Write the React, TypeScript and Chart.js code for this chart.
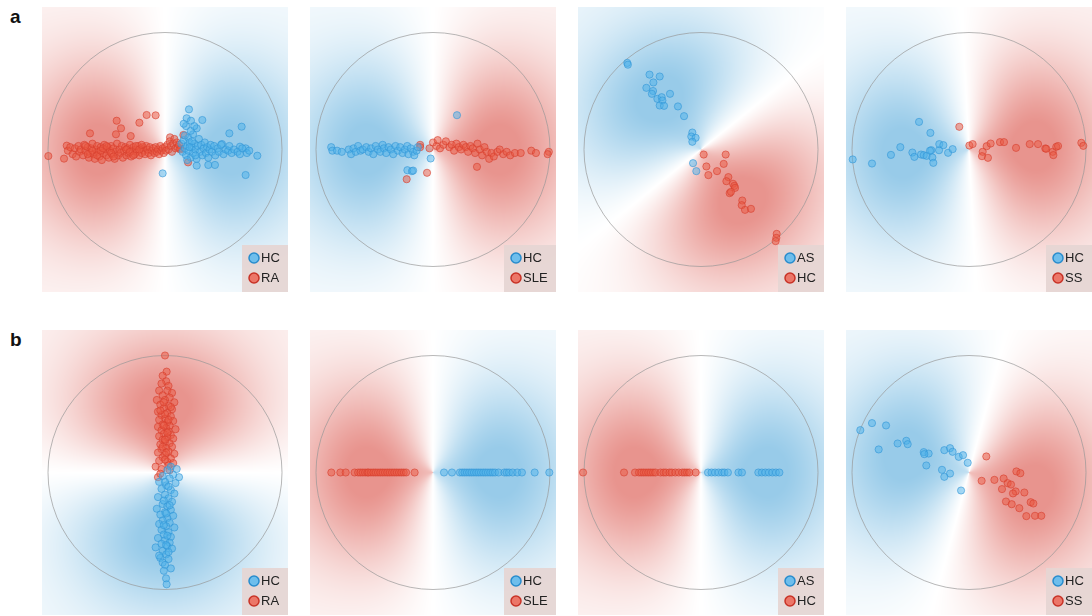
import React, { useEffect, useRef } from "react";
import { Chart, registerables } from "chart.js";
Chart.register(...registerables);

type P = [number, number];

// ---------- data (circle radius = 1, centre = 0,0) ----------
const a1HC: P[] = [
  [0.205,0.343],[0.185,0.267],[0.222,0.246],[0.319,0.252],[0.271,0.181],[0.655,0.195],[0.55,0.138],[0.487,0.047],
  [0.641,0.024],[0.689,0.01],[0.789,-0.053],[0.689,-0.218],[-0.02,-0.204],[0.427,-0.132],[0.37,-0.132],[0.271,-0.138],
  [0.14,0.05],[0.15,-0.02],[0.16,0.08],[0.17,0.01],[0.18,-0.05],[0.19,0.03],[0.2,0.1],[0.2,-0.01],[0.21,0.06],
  [0.22,-0.07],[0.23,0.02],[0.24,0.13],[0.24,-0.03],[0.25,0.05],[0.26,0.0],[0.27,-0.08],[0.28,0.03],[0.29,0.09],
  [0.3,-0.02],[0.31,0.04],[0.32,-0.05],[0.33,0.01],[0.34,0.06],[0.35,-0.03],[0.36,0.02],[0.37,-0.07],[0.38,0.0],
  [0.39,0.04],[0.4,-0.02],[0.42,0.03],[0.43,-0.05],[0.45,0.01],[0.46,-0.02],[0.48,0.04],[0.5,-0.04],[0.52,0.0],
  [0.54,-0.01],[0.55,0.03],[0.57,-0.03],[0.59,0.0],[0.62,-0.02],[0.64,-0.04],[0.66,0.01],[0.7,-0.03],[0.72,-0.01],
  [0.22,0.16],[0.18,0.2],[0.16,0.22],[0.25,0.2],[0.17,0.12],[0.19,-0.09],[0.23,0.07],[0.26,-0.05],[0.21,0.02]
];
const a1RA: P[] = [
  [-0.997,-0.056],[-0.863,-0.078],[-0.84,0.033],[-0.641,0.138],[-0.413,0.246],[-0.376,0.181],[-0.419,0.13],
  [-0.293,0.115],[-0.219,0.229],[-0.157,0.295],[-0.08,0.292],[0.043,0.104],[0.157,0.124],[0.197,-0.11],[0.128,0.01],
  [-0.83,-0.01],[-0.81,0.02],[-0.79,-0.04],[-0.77,0.01],[-0.76,-0.06],[-0.74,0.03],[-0.73,-0.02],[-0.72,0.0],
  [-0.7,-0.05],[-0.69,0.04],[-0.68,-0.01],[-0.66,0.02],[-0.65,-0.07],[-0.64,-0.03],[-0.63,0.01],[-0.62,0.05],
  [-0.61,-0.04],[-0.6,-0.08],[-0.59,0.0],[-0.58,0.03],[-0.57,-0.02],[-0.56,-0.06],[-0.55,0.02],[-0.54,-0.09],
  [-0.53,-0.03],[-0.52,0.04],[-0.51,0.0],[-0.5,-0.05],[-0.49,0.02],[-0.48,-0.07],[-0.47,-0.01],[-0.46,0.03],
  [-0.45,-0.04],[-0.44,0.01],[-0.43,-0.08],[-0.42,-0.02],[-0.41,0.05],[-0.4,-0.05],[-0.39,0.0],[-0.38,-0.03],
  [-0.37,0.03],[-0.36,-0.07],[-0.35,-0.01],[-0.34,0.02],[-0.33,-0.05],[-0.32,0.01],[-0.31,-0.03],[-0.3,0.04],
  [-0.29,-0.06],[-0.28,-0.01],[-0.27,0.02],[-0.26,-0.04],[-0.25,0.0],[-0.24,-0.02],[-0.23,0.03],[-0.22,-0.05],
  [-0.21,0.01],[-0.2,-0.03],[-0.19,0.02],[-0.18,-0.01],[-0.17,-0.04],[-0.16,0.03],[-0.15,0.0],[-0.14,-0.03],
  [-0.13,0.02],[-0.12,-0.05],[-0.11,-0.01],[-0.1,0.01],[-0.09,-0.03],[-0.08,0.02],[-0.07,-0.02],[-0.06,0.0],
  [-0.05,-0.04],[-0.04,0.03],[-0.03,-0.01],[-0.02,0.01],[-0.01,-0.03],[0.0,0.02],[0.01,-0.01],[0.02,0.04],
  [0.03,0.0],[0.04,0.07],[0.05,0.03],[0.06,-0.02],[0.07,0.05],[0.08,0.09],[0.09,0.01],[0.1,0.06],[0.11,0.02],
  [0.12,0.04],[0.13,0.0],[-0.68,0.03],[-0.66,-0.04],[-0.62,-0.01],[-0.58,-0.05],[-0.55,-0.01],[-0.53,0.01],
  [-0.5,0.03],[-0.46,-0.03],[-0.44,-0.06],[-0.33,0.0],[-0.3,-0.02],[-0.27,-0.05],[-0.25,0.03],[-0.22,0.0],[-0.2,0.04]
];
const a2HC: P[] = [
  [-0.87,0.02],[-0.86,-0.01],[-0.82,-0.01],[-0.78,-0.02],[-0.72,0.0],[-0.7,-0.04],[-0.68,0.01],[-0.66,-0.02],
  [-0.64,0.03],[-0.62,-0.01],[-0.6,0.0],[-0.57,0.02],[-0.55,-0.02],[-0.53,0.01],[-0.51,-0.04],[-0.49,0.03],
  [-0.47,0.0],[-0.45,-0.02],[-0.43,0.04],[-0.42,0.01],[-0.4,-0.03],[-0.38,0.02],[-0.36,0.0],[-0.34,-0.04],
  [-0.32,0.03],[-0.3,-0.01],[-0.28,0.02],[-0.26,-0.03],[-0.24,0.0],[-0.22,0.03],[-0.21,-0.04],[-0.19,0.01],
  [-0.17,-0.02],[-0.16,-0.05],[-0.14,-0.01],[-0.13,0.02],[0.205,0.293],[-0.02,-0.077],[-0.219,-0.177],
  [-0.18,-0.185],[-0.17,-0.18]
];
const a2SLE: P[] = [
  [-0.11,0.04],[-0.11,0.02],[-0.03,0.01],[0.0,0.06],[0.03,0.03],[0.04,0.08],[0.06,0.01],[0.09,0.04],[0.11,0.07],
  [0.14,0.02],[0.16,0.04],[0.18,-0.01],[0.2,0.05],[0.22,0.02],[0.24,0.0],[0.26,0.04],[0.28,0.02],[0.3,-0.02],
  [0.32,0.03],[0.34,0.01],[0.36,-0.03],[0.38,0.05],[0.4,0.0],[0.42,-0.05],[0.44,0.02],[0.46,-0.02],[0.48,-0.08],
  [0.5,-0.03],[0.52,-0.06],[0.55,-0.02],[0.57,0.0],[0.6,-0.04],[0.63,-0.02],[0.66,-0.05],[0.7,-0.03],[0.75,-0.03],
  [0.84,-0.01],[0.88,-0.03],[0.99,-0.02],[0.98,-0.04],[-0.225,-0.254],[-0.051,-0.199],[0.376,-0.148]
];
const a3AS: P[] = [
  [-0.63,0.74],[-0.625,0.725],[-0.44,0.64],[-0.353,0.624],[-0.407,0.573],[-0.467,0.527],[-0.41,0.5],[-0.42,0.476],
  [-0.373,0.433],[-0.336,0.447],[-0.33,0.419],[-0.265,0.476],[-0.353,0.376],[-0.316,0.373],[-0.197,0.368],
  [-0.145,0.285],[-0.074,0.145],[-0.083,0.111],[-0.046,0.1],[-0.074,0.066],[-0.068,-0.117],[-0.04,-0.185]
];
const a3HC: P[] = [
  [0.023,-0.043],[0.211,-0.043],[0.046,-0.145],[0.194,-0.123],[0.063,-0.219],[0.137,-0.185],[0.234,-0.236],
  [0.217,-0.271],[0.274,-0.293],[0.285,-0.311],[0.291,-0.328],[0.245,-0.373],[0.256,-0.362],[0.353,-0.436],
  [0.348,-0.476],[0.376,-0.516],[0.427,-0.507],[0.647,-0.721],[0.644,-0.755],[0.638,-0.783]
];
const a4HC: P[] = [
  [-0.994,-0.085],[-0.829,-0.12],[-0.667,-0.046],[-0.587,0.02],[-0.484,-0.026],[-0.467,-0.063],[-0.41,-0.043],
  [-0.387,-0.048],[-0.362,-0.054],[-0.322,-0.006],[-0.333,-0.01],[-0.313,-0.068],[-0.305,-0.114],[-0.256,-0.006],
  [-0.254,0.046],[-0.219,0.037],[-0.179,-0.028],[-0.14,0.003],[-0.427,0.236],[-0.33,0.142]
];
const a4SS: P[] = [
  [-0.083,0.194],[0.003,0.034],[0.031,0.046],[0.151,0.028],[0.185,0.051],[0.117,-0.02],[0.111,-0.057],
  [0.162,-0.071],[0.265,0.063],[0.299,0.063],[0.402,0.014],[0.519,0.046],[0.59,0.046],[0.652,0.009],[0.66,0.006],
  [0.715,-0.02],[0.721,-0.048],[0.746,0.023],[0.761,0.03],[0.96,0.057],[0.977,0.031]
];
const b1HC: P[] = [
  [0.05,0.05],[0.1,0.03],[0.12,-0.04],[0.02,0.02],[0.07,-0.02],[-0.02,-0.03],[0.04,-0.05],[-0.05,-0.08],[0.09,-0.09],
  [0.01,-0.11],[-0.03,-0.14],[0.05,-0.15],[0.08,-0.18],[0.0,-0.19],[-0.06,-0.21],[0.03,-0.22],[0.06,-0.25],
  [-0.02,-0.27],[0.02,-0.29],[-0.07,-0.31],[0.05,-0.32],[0.0,-0.34],[-0.04,-0.36],[0.07,-0.37],[0.02,-0.39],
  [-0.02,-0.41],[0.04,-0.43],[-0.05,-0.44],[0.01,-0.46],[0.08,-0.47],[-0.03,-0.49],[0.03,-0.51],[-0.01,-0.53],
  [0.05,-0.55],[-0.06,-0.56],[0.0,-0.58],[0.04,-0.6],[-0.03,-0.61],[0.02,-0.63],[-0.08,-0.64],[0.06,-0.65],
  [-0.02,-0.67],[0.01,-0.7],[-0.04,-0.73],[0.03,-0.74],[-0.02,-0.77],[0.0,-0.79],[-0.01,-0.84],[0.05,-0.82],
  [0.009,-0.905],[0.014,-0.956],[0.0,-0.08],[0.03,-0.12],[-0.01,-0.24],[0.04,-0.28],[0.01,-0.35],[-0.01,-0.45],
  [0.02,-0.54],[0.01,-0.62],[0.03,-0.68],[-0.05,-0.71]
];
const b1RA: P[] = [
  [0.0,1.0],[0.014,0.862],[-0.02,0.827],[0.01,0.78],[-0.03,0.76],[0.03,0.74],[-0.05,0.7],[0.02,0.7],[0.06,0.68],
  [-0.02,0.66],[0.04,0.64],[-0.07,0.62],[0.0,0.62],[0.08,0.6],[-0.04,0.58],[0.03,0.57],[-0.01,0.55],[0.06,0.54],
  [-0.06,0.52],[0.02,0.51],[-0.03,0.49],[0.05,0.48],[0.0,0.46],[-0.05,0.45],[0.07,0.44],[0.02,0.43],[-0.02,0.41],
  [0.04,0.4],[-0.06,0.39],[0.01,0.38],[0.09,0.37],[-0.03,0.36],[0.03,0.35],[-0.01,0.33],[0.05,0.32],[-0.05,0.31],
  [0.02,0.3],[0.07,0.29],[-0.02,0.28],[0.0,0.26],[0.04,0.25],[-0.04,0.24],[0.06,0.22],[0.01,0.21],[-0.03,0.2],
  [0.03,0.18],[-0.06,0.17],[0.08,0.16],[0.0,0.15],[-0.02,0.13],[0.05,0.12],[-0.05,0.1],[0.02,0.09],[0.07,0.08],
  [-0.08,0.05],[-0.03,0.03],[0.04,0.02],[-0.06,-0.04],[-0.04,-0.01],[0.0,0.5],[0.03,0.45],[-0.01,0.4],[0.02,0.34],
  [0.0,0.28],[-0.02,0.22],[0.01,0.17],[0.0,0.11],[0.03,0.06],[-0.01,0.6],[0.05,0.56],[-0.04,0.53]
];
// panels b2 and b3 lie on the horizontal axis (y = 0)
const b2HCx: number[] = [0.094,0.162,0.23,0.25,0.27,0.29,0.31,0.33,0.35,0.37,0.39,0.41,0.43,0.45,0.47,0.49,0.51,0.53,0.56,0.61,0.63,0.65,0.68,0.72,0.76,0.869,0.994];
const b2SLEx: number[] = [-0.869,-0.792,-0.746,-0.67,-0.64,-0.62,-0.6,-0.58,-0.56,-0.55,-0.53,-0.51,-0.49,-0.47,-0.45,-0.43,-0.41,-0.39,-0.37,-0.35,-0.33,-0.31,-0.29,-0.27,-0.25,-0.23,-0.157];
const b3ASx: number[] = [0.06,0.09,0.12,0.15,0.18,0.2,0.23,0.32,0.35,0.49,0.52,0.55,0.58,0.61,0.64,0.67];
const b3HCx: number[] = [-1.008,-0.658,-0.564,-0.53,-0.51,-0.49,-0.47,-0.45,-0.43,-0.41,-0.39,-0.345,-0.32,-0.3,-0.27,-0.25,-0.22,-0.19,-0.16,-0.14,-0.12,-0.1,-0.046];
const b4HC: P[] = [
  [-0.929,0.362],[-0.829,0.422],[-0.709,0.402],[-0.772,0.197],[-0.61,0.248],[-0.536,0.271],[-0.524,0.242],
  [-0.387,0.174],[-0.345,0.162],[-0.382,0.157],[-0.211,0.191],[-0.162,0.208],[-0.14,0.177],[-0.088,0.134],
  [-0.051,0.148],[-0.011,0.083],[-0.365,0.06],[-0.231,0.023],[-0.162,-0.009],[-0.211,-0.037],[-0.068,-0.154]
];
const b4SS: P[] = [
  [0.148,0.137],[0.108,-0.071],[0.217,-0.063],[0.296,-0.051],[0.33,-0.091],[0.359,-0.103],[0.282,-0.142],
  [0.405,0.009],[0.439,-0.006],[0.399,-0.162],[0.376,-0.179],[0.473,-0.171],[0.316,-0.248],[0.365,-0.271],
  [0.43,-0.305],[0.527,-0.254],[0.55,-0.265],[0.49,-0.373],[0.564,-0.37],[0.618,-0.37]
];

// direction (degrees) of the red side of each background field
const redDirections: number[] = [180, 0, -51, 3, 90, 180, 180, -15];

// ---------- styling ----------
const PW = 246, PH = 285, R_PX = 117;
const XR = (PW / 2) / R_PX, YR = (PH / 2) / R_PX;
const STYLE = {
  blue: { fill: "rgba(78,178,234,0.5)", stroke: "rgba(50,150,215,0.6)", lf: "rgba(110,190,236,1)", ls: "rgba(40,140,205,1)" },
  red: { fill: "rgba(234,88,66,0.5)", stroke: "rgba(215,62,45,0.6)", lf: "rgba(236,118,104,1)", ls: "rgba(200,50,38,1)" },
};
const RED_MAX = [232, 148, 142];
const BLUE_MAX = [152, 203, 233];

const toPts = (a: P[]) => a.map(([x, y]) => ({ x, y }));
const axisPts = (a: number[]) => a.map((x) => ({ x, y: 0 }));

type Series = { label: string; kind: "blue" | "red"; data: { x: number; y: number }[] };
type Panel = { left: number; top: number; series: Series[]; theta: number };

const LEFTS = [42, 310, 578, 846];
const TOPS = [7, 330];

const panels: Panel[] = [
  { left: LEFTS[0], top: TOPS[0], theta: redDirections[0], series: [{ label: "HC", kind: "blue", data: toPts(a1HC) }, { label: "RA", kind: "red", data: toPts(a1RA) }] },
  { left: LEFTS[1], top: TOPS[0], theta: redDirections[1], series: [{ label: "HC", kind: "blue", data: toPts(a2HC) }, { label: "SLE", kind: "red", data: toPts(a2SLE) }] },
  { left: LEFTS[2], top: TOPS[0], theta: redDirections[2], series: [{ label: "AS", kind: "blue", data: toPts(a3AS) }, { label: "HC", kind: "red", data: toPts(a3HC) }] },
  { left: LEFTS[3], top: TOPS[0], theta: redDirections[3], series: [{ label: "HC", kind: "blue", data: toPts(a4HC) }, { label: "SS", kind: "red", data: toPts(a4SS) }] },
  { left: LEFTS[0], top: TOPS[1], theta: redDirections[4], series: [{ label: "HC", kind: "blue", data: toPts(b1HC) }, { label: "RA", kind: "red", data: toPts(b1RA) }] },
  { left: LEFTS[1], top: TOPS[1], theta: redDirections[5], series: [{ label: "HC", kind: "blue", data: axisPts(b2HCx) }, { label: "SLE", kind: "red", data: axisPts(b2SLEx) }] },
  { left: LEFTS[2], top: TOPS[1], theta: redDirections[6], series: [{ label: "AS", kind: "blue", data: axisPts(b3ASx) }, { label: "HC", kind: "red", data: axisPts(b3HCx) }] },
  { left: LEFTS[3], top: TOPS[1], theta: redDirections[7], series: [{ label: "HC", kind: "blue", data: toPts(b4HC) }, { label: "SS", kind: "red", data: toPts(b4SS) }] },
];

const fieldPlugin = {
  id: "field",
  beforeDraw(chart: any, _args: any, opts: any) {
    const { ctx, chartArea, scales } = chart;
    if (!chart.$fieldImg) {
      const w = Math.round(chartArea.right - chartArea.left);
      const h = Math.round(chartArea.bottom - chartArea.top);
      const img = ctx.createImageData(w, h);
      const th = (opts.theta * Math.PI) / 180;
      for (let py = 0; py < h; py++) {
        const y = scales.y.getValueForPixel(chartArea.top + py + 0.5);
        for (let px = 0; px < w; px++) {
          const x = scales.x.getValueForPixel(chartArea.left + px + 0.5);
          const r = Math.sqrt(x * x + y * y);
          const phi = Math.atan2(y, x);
          const c = Math.cos(phi - th);
          const a = Math.pow(Math.abs(c), 1.1);
          const g = 0.16 + 0.84 * Math.exp(-((r - 0.55) * (r - 0.55)) / (2 * 0.44 * 0.44));
          const I = Math.min(1, 1.08 * a * g);
          const m = c >= 0 ? RED_MAX : BLUE_MAX;
          const k = (py * w + px) * 4;
          img.data[k] = 255 + (m[0] - 255) * I;
          img.data[k + 1] = 255 + (m[1] - 255) * I;
          img.data[k + 2] = 255 + (m[2] - 255) * I;
          img.data[k + 3] = 255;
        }
      }
      chart.$fieldImg = img;
    }
    ctx.putImageData(chart.$fieldImg, chartArea.left, chartArea.top);
  },
  beforeDatasetsDraw(chart: any) {
    const { ctx, scales } = chart;
    const cx = scales.x.getPixelForValue(0);
    const cy = scales.y.getPixelForValue(0);
    const rr = scales.x.getPixelForValue(1) - cx;
    ctx.save();
    ctx.beginPath();
    ctx.arc(cx, cy, rr, 0, Math.PI * 2);
    ctx.strokeStyle = "rgba(150,150,150,0.85)";
    ctx.lineWidth = 0.8;
    ctx.stroke();
    ctx.restore();
  },
  afterDraw(chart: any) {
    const { ctx, chartArea } = chart;
    const ds = chart.data.datasets;
    ctx.save();
    ctx.font = '13px "Liberation Sans", Arial, sans-serif';
    const maxW = Math.max(...ds.map((d: any) => ctx.measureText(d.label).width));
    const bw = Math.round(19 + maxW + 8);
    const bh = 47;
    const bx = chartArea.right - bw;
    const by = chartArea.bottom - bh;
    ctx.fillStyle = "rgba(229,213,211,0.93)";
    ctx.fillRect(bx, by, bw, bh);
    ds.forEach((d: any, i: number) => {
      const yy = by + 13 + i * 20;
      const st = STYLE[d.kind as "blue" | "red"];
      ctx.beginPath();
      ctx.arc(bx + 12, yy, 5, 0, Math.PI * 2);
      ctx.fillStyle = st.lf;
      ctx.fill();
      ctx.lineWidth = 1.5;
      ctx.strokeStyle = st.ls;
      ctx.stroke();
      ctx.fillStyle = "#222";
      ctx.textBaseline = "middle";
      ctx.textAlign = "left";
      ctx.fillText(d.label, bx + 19, yy + 0.5);
    });
    ctx.restore();
  },
};

function PanelChart({ panel }: { panel: Panel }) {
  const ref = useRef<HTMLCanvasElement | null>(null);
  useEffect(() => {
    if (!ref.current) return;
    const chart = new Chart(ref.current, {
      type: "scatter",
      data: {
        datasets: panel.series.map((s) => ({
          label: s.label,
          kind: s.kind,
          data: s.data,
          backgroundColor: STYLE[s.kind].fill,
          borderColor: STYLE[s.kind].stroke,
          borderWidth: 1,
          pointRadius: 3.6,
          clip: false,
        })) as any,
      },
      options: {
        animation: false,
        responsive: false,
        maintainAspectRatio: false,
        devicePixelRatio: 1,
        layout: { padding: 0, autoPadding: false },
        events: [],
        scales: {
          x: { type: "linear", display: false, min: -XR, max: XR },
          y: { type: "linear", display: false, min: -YR, max: YR },
        },
        plugins: {
          legend: { display: false },
          tooltip: { enabled: false },
          field: { theta: panel.theta },
        } as any,
      },
      plugins: [fieldPlugin],
    });
    return () => chart.destroy();
  }, [panel]);
  return (
    <canvas
      ref={ref}
      width={PW}
      height={PH}
      style={{ position: "absolute", left: panel.left, top: panel.top, width: PW, height: PH, display: "block" }}
    />
  );
}

const labelStyle: React.CSSProperties = {
  position: "absolute",
  left: 10,
  font: 'bold 19px "Liberation Sans", Arial, sans-serif',
  lineHeight: "19px",
  color: "#111",
};

export default function App() {
  return (
    <div style={{ position: "fixed", left: 0, top: 0, width: 1092, height: 616, background: "#fff", overflow: "hidden" }}>
      <div style={{ ...labelStyle, top: 7 }}>a</div>
      <div style={{ ...labelStyle, top: 330 }}>b</div>
      {panels.map((p, i) => (
        <PanelChart key={i} panel={p} />
      ))}
    </div>
  );
}
